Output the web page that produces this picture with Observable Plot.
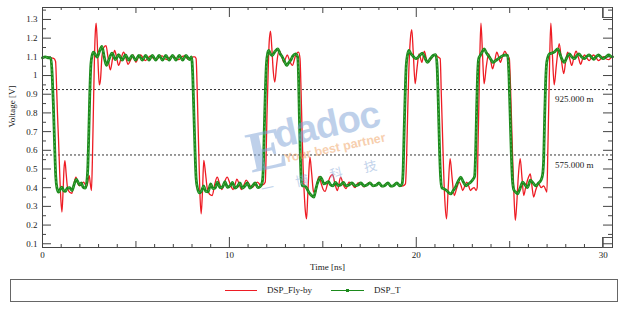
<!DOCTYPE html>
<html>
<head>
<meta charset="utf-8">
<script src="https://cdn.jsdelivr.net/npm/d3@7"></script>
<script src="https://cdn.jsdelivr.net/npm/@observablehq/plot@0.6"></script>
<style>
  html, body { margin: 0; padding: 0; background: #fff; }
  #wrap { position: relative; width: 625px; height: 309px; overflow: hidden; font-family: "Liberation Serif", serif; }
  #chart { position: absolute; left: 0; top: 0; }
  #legend { position: absolute; left: 10px; top: 279px; width: 606px; height: 21px; border: 1px solid #666; box-sizing: content-box; }
  .sw { position: absolute; height: 0; }
  .lt { position: absolute; font-size: 9px; color: #222; line-height: 10px; white-space: nowrap; }
  .handle { position: absolute; width: 9px; height: 9px; border: 1px solid #555; border-right: none; }
  #wm { position: absolute; left: 0; top: 0; pointer-events: none; }
</style>
</head>
<body>
<div id="wrap">
  <div id="chart"></div>
  <svg id="wm" width="625" height="277">
    <g transform="rotate(-12, 310, 140)" opacity="0.5">
      <text x="246" y="160" font-family="Liberation Serif" font-weight="bold" font-size="58" fill="#7fa3d6">E</text>
      <text x="276" y="141" font-family="Liberation Sans" font-weight="bold" font-size="38" fill="#7fa3d6" letter-spacing="-1">dadoc</text>
      <text x="281" y="157" font-family="Liberation Sans" font-weight="bold" font-size="12.5" fill="#f0a060">Your best partner</text>
      <text x="252" y="183" font-family="Noto Sans CJK SC" font-size="13" fill="#86a8d8" letter-spacing="22">一博科技</text>
    </g>
  </svg>
  <div class="handle" style="left:602px; top:7px;"></div>
  <div class="handle" style="left:602px; top:237px;"></div>
  <div id="legend"></div>
</div>
<script>
// ---------------- data ----------------
const seriesNames = ["DSP_Fly-by", "DSP_T"];
const seriesColors = ["#ee1c24", "#1c8a1c"];

// DSP_T (green) : time [ns] and voltage [V]
const greenT = [
  0.00,0.15,0.30,0.45,0.52,0.58,0.65,0.71,0.77,
  0.86,0.95,1.04,1.13,1.22,1.33,1.45,1.58,1.70,1.81,1.90,1.98,2.08,2.17,2.29,2.37,
  2.43,2.48,2.53,2.59,2.66,
  2.73,2.84,2.92,3.05,3.18,3.30,3.42,3.57,3.72,3.90,4.08,4.26,4.44,4.62,4.80,4.98,5.16,5.34,5.52,5.70,5.88,6.06,6.24,6.42,6.60,6.78,6.96,7.14,7.32,7.50,7.68,7.86,7.97,
  8.04,8.10,8.16,8.22,8.30,
  8.40,8.52,8.62,8.74,8.86,9.00,9.12,9.24,9.36,9.50,9.64,9.76,9.90,10.04,10.16,10.30,10.44,10.56,10.70,10.84,10.96,11.10,11.24,11.38,11.52,11.64,11.76,
  11.82,11.87,11.92,11.98,12.05,
  12.11,12.20,12.29,12.45,12.59,12.72,12.83,12.95,13.06,13.17,13.27,13.40,13.54,13.65,
  13.70,13.74,13.79,13.84,13.90,
  14.02,14.12,14.25,14.38,14.52,14.62,14.70,14.80,14.88,14.97,15.06,15.18,15.30,15.42,15.55,15.68,15.82,15.96,16.10,16.24,16.40,16.56,16.72,16.88,17.04,17.20,17.36,17.52,17.68,17.84,18.00,18.16,18.32,18.48,18.64,18.80,18.96,19.12,19.24,
  19.30,19.35,19.40,19.46,19.53,
  19.61,19.70,19.80,19.90,20.00,20.16,20.33,20.46,20.60,20.75,20.90,21.05,
  21.12,21.18,21.24,21.30,21.37,
  21.48,21.62,21.75,21.85,21.98,22.10,22.24,22.38,22.52,22.65,22.78,22.92,23.04,23.12,
  23.18,23.23,23.28,23.34,
  23.42,23.52,23.63,23.76,23.90,24.00,24.10,24.25,24.40,24.52,24.65,24.78,24.89,
  24.96,25.02,25.08,25.14,25.20,
  25.24,25.33,25.42,25.55,25.69,25.82,25.95,26.03,26.10,26.25,26.40,26.54,26.67,26.76,
  26.82,26.87,26.92,26.97,
  27.03,27.12,27.25,27.38,27.57,27.66,27.74,27.83,27.92,28.05,28.19,28.32,28.45,28.58,28.70,28.84,28.98,29.12,29.25,29.38,29.50,29.62,29.75,29.88,30.00,30.15,30.30,30.42,30.50
];
const greenV = [
  1.095,1.100,1.095,1.092,1.000,0.850,0.620,0.460,0.400,
  0.376,0.392,0.403,0.385,0.380,0.398,0.400,0.385,0.420,0.444,0.430,0.415,0.425,0.403,0.398,0.430,
  0.520,0.700,0.900,1.060,1.110,
  1.125,1.110,1.098,1.130,1.156,1.100,1.055,1.090,1.120,1.085,1.112,1.082,1.110,1.082,1.108,1.082,1.108,1.082,1.108,1.082,1.108,1.082,1.108,1.082,1.108,1.082,1.108,1.082,1.108,1.082,1.108,1.085,1.100,
  1.000,0.800,0.600,0.450,0.395,
  0.372,0.385,0.410,0.380,0.378,0.420,0.395,0.398,0.430,0.400,0.405,0.432,0.402,0.410,0.428,0.398,0.408,0.425,0.398,0.410,0.425,0.398,0.410,0.425,0.400,0.405,0.430,
  0.520,0.720,0.900,1.060,1.120,
  1.134,1.115,1.107,1.130,1.143,1.115,1.100,1.075,1.054,1.068,1.080,1.105,1.116,1.100,
  1.000,0.800,0.600,0.450,0.410,
  0.410,0.400,0.376,0.360,0.350,0.390,0.420,0.445,0.456,0.440,0.420,0.425,0.432,0.415,0.410,0.428,0.412,0.415,0.428,0.410,0.415,0.426,0.410,0.414,0.425,0.410,0.414,0.426,0.410,0.413,0.425,0.408,0.412,0.425,0.408,0.412,0.425,0.410,0.420,
  0.500,0.700,0.880,1.050,1.110,
  1.134,1.118,1.107,1.095,1.090,1.105,1.120,1.095,1.070,1.090,1.107,1.112,
  1.040,0.850,0.620,0.460,0.400,
  0.394,0.385,0.372,0.367,0.385,0.403,0.435,0.456,0.430,0.410,0.420,0.430,0.445,0.460,
  0.600,0.820,1.000,1.090,
  1.107,1.125,1.143,1.120,1.100,1.085,1.070,1.080,1.090,1.100,1.107,1.110,1.107,
  1.000,0.800,0.600,0.450,0.395,
  0.385,0.375,0.367,0.395,0.430,0.415,0.400,0.420,0.440,0.425,0.410,0.425,0.440,0.470,
  0.560,0.780,0.960,1.060,
  1.095,1.116,1.120,1.125,1.143,1.125,1.100,1.080,1.070,1.095,1.116,1.100,1.090,1.105,1.116,1.100,1.090,1.102,1.110,1.098,1.087,1.100,1.110,1.098,1.090,1.100,1.110,1.102,1.100
];

// DSP_Fly-by (red) : time [ns] and voltage [V]
const redT = [
  0.00,0.20,0.40,0.60,0.70,
  0.75,0.80,0.86,0.92,0.98,1.04,1.10,1.15,1.20,1.27,1.34,1.45,1.57,1.68,1.79,1.90,2.00,2.10,2.20,2.30,2.38,2.44,2.50,2.56,2.62,
  2.67,2.72,2.77,2.82,2.87,2.92,2.98,3.04,3.10,3.18,3.28,3.40,3.50,3.63,3.75,3.86,3.96,4.07,4.20,4.34,4.46,4.58,4.72,4.85,4.92,5.00,5.12,5.25,5.38,5.50,5.65,5.80,5.95,6.10,6.25,6.40,6.55,6.70,6.85,7.00,7.15,7.30,7.45,7.60,7.75,7.90,8.05,8.15,8.22,
  8.27,8.32,8.37,8.42,8.49,8.56,8.63,8.72,8.81,8.94,9.08,9.22,9.35,9.48,9.60,9.74,9.88,10.04,10.20,10.30,10.40,10.52,10.65,10.78,10.90,11.05,11.20,11.35,11.50,11.60,11.67,11.76,11.85,11.92,
  11.96,12.01,12.07,12.13,12.20,12.27,12.35,12.43,12.53,12.65,12.78,12.92,13.00,13.10,13.22,13.37,13.52,13.62,13.70,13.78,
  13.84,13.89,13.94,14.00,14.06,14.13,14.19,14.25,14.31,14.40,14.50,14.60,14.70,14.80,14.92,15.02,15.12,15.25,15.40,15.52,15.65,15.78,15.95,16.10,16.24,16.40,16.56,16.72,16.88,17.04,17.20,17.36,17.52,17.68,17.84,18.00,18.16,18.32,18.48,18.64,18.80,18.96,19.12,19.30,19.42,
  19.48,19.54,19.60,19.68,19.76,19.84,19.94,20.04,20.15,20.30,20.43,20.60,20.80,20.95,21.05,21.15,21.28,
  21.34,21.40,21.46,21.53,21.62,21.71,21.81,21.92,22.03,22.17,22.30,22.40,22.48,22.60,22.70,22.80,22.90,23.00,23.10,23.20,23.26,
  23.30,23.35,23.40,23.46,23.55,23.63,23.75,23.87,23.98,24.08,24.20,24.31,24.42,24.50,24.62,24.74,24.86,24.98,
  25.04,25.10,25.16,25.22,25.30,25.38,25.46,25.56,25.66,25.75,25.85,25.95,26.02,26.10,26.20,26.28,26.40,26.55,26.68,26.82,26.92,26.99,
  27.04,27.09,27.14,27.20,27.28,27.38,27.50,27.65,27.77,27.89,28.00,28.10,28.21,28.32,28.44,28.55,28.68,28.80,28.90,29.00,29.12,29.25,29.36,29.48,29.62,29.75,29.88,30.00,30.15,30.30,30.42,30.50
];
const redV = [
  1.095,1.098,1.095,1.092,1.075,
  0.950,0.800,0.650,0.480,0.340,0.270,0.380,0.500,0.545,0.470,0.400,0.375,0.370,0.420,0.456,0.420,0.410,0.420,0.430,0.415,0.410,0.440,0.465,0.420,0.385,
  0.550,0.800,1.050,1.220,1.280,1.200,1.050,0.950,0.975,1.100,1.150,1.160,1.100,1.030,1.090,1.134,1.100,1.054,1.090,1.125,1.095,1.060,1.085,1.110,1.090,1.070,1.095,1.110,1.095,1.080,1.095,1.105,1.090,1.085,1.100,1.105,1.090,1.085,1.100,1.105,1.090,1.085,1.100,1.105,1.090,1.085,1.100,1.100,1.090,
  0.950,0.750,0.560,0.380,0.260,0.380,0.546,0.480,0.400,0.365,0.358,0.420,0.456,0.420,0.390,0.430,0.456,0.420,0.390,0.415,0.446,0.420,0.390,0.415,0.440,0.420,0.400,0.415,0.430,0.420,0.410,0.415,0.420,0.430,
  0.550,0.780,1.000,1.180,1.237,1.150,1.020,0.965,1.060,1.134,1.110,1.070,1.090,1.110,1.080,1.054,1.100,1.120,1.125,1.090,
  0.900,0.700,0.520,0.380,0.280,0.233,0.350,0.480,0.563,0.480,0.380,0.370,0.430,0.460,0.420,0.390,0.380,0.420,0.460,0.470,0.420,0.385,0.456,0.415,0.395,0.430,0.420,0.400,0.425,0.422,0.404,0.418,0.428,0.408,0.415,0.425,0.406,0.414,0.426,0.406,0.414,0.426,0.408,0.410,0.420,
  0.550,0.800,1.020,1.190,1.245,1.120,0.956,1.040,1.116,1.070,1.130,1.070,1.090,1.107,1.110,1.100,1.090,
  0.900,0.700,0.500,0.330,0.233,0.400,0.555,0.450,0.358,0.400,0.430,0.410,0.385,0.410,0.430,0.410,0.385,0.395,0.400,0.385,0.400,
  0.600,0.850,1.100,1.280,1.100,0.956,1.050,1.116,1.080,1.036,1.080,1.125,1.095,1.070,1.105,1.130,1.110,1.090,
  0.950,0.750,0.550,0.380,0.225,0.320,0.460,0.555,0.450,0.358,0.400,0.440,0.460,0.474,0.400,0.350,0.390,0.420,0.400,0.410,0.390,0.376,
  0.600,0.850,1.100,1.280,1.120,0.950,1.060,1.170,1.080,1.010,1.080,1.125,1.090,1.054,1.100,1.130,1.095,1.060,1.090,1.110,1.095,1.080,1.095,1.110,1.095,1.080,1.090,1.100,1.090,1.085,1.095,1.100
];

// axis ticks and reference levels
const xTickLabels = [0, 10, 20, 30];
const yTickLabels = [0.1, 0.2, 0.3, 0.4, 0.5, 0.6, 0.7, 0.8, 0.9, 1.0, 1.1, 1.2, 1.3];
const refLevels = [0.925, 0.575];
const refLabels = ["925.000 m", "575.000 m"];

// ---------------- chart ----------------
const W = 625, H = 277, ML = 42, MR = 13, MT = 7, MB = 30;
const innerW = W - ML - MR, innerH = H - MT - MB;

const red = redT.map((t, i) => ({t, v: redV[i]}));
const green = greenT.map((t, i) => ({t, v: greenV[i]}));
const refs = refLevels.map((v, i) => ({v, label: refLabels[i]}));

const xMid = [5, 15, 25];
const xMinor = d3.range(0, 31).filter(d => d % 5 !== 0);
const yMinor = d3.range(3, 28, 2).map(k => k * 0.05);

const tickStroke = "#444";
const chart = Plot.plot({
  width: W, height: H,
  marginLeft: ML, marginRight: MR, marginTop: MT, marginBottom: MB,
  x: {domain: [0, 30.5]},
  y: {domain: [0.08, 1.364]},
  style: {fontFamily: "Liberation Serif", fontSize: "9px", color: "#222", background: "white", overflow: "visible"},
  marks: [
    Plot.ruleY(refs, {y: "v", stroke: "#333", strokeWidth: 1, strokeDasharray: "2,2"}),
    Plot.text(refs, {x: 27.42, y: "v", text: "label", textAnchor: "start", dy: 10, fill: "#222"}),
    // bottom ticks (inward)
    Plot.tickX(xTickLabels, {x: d => d, insetTop: innerH - 10, stroke: tickStroke}),
    Plot.tickX(xMid, {x: d => d, insetTop: innerH - 6, stroke: tickStroke}),
    Plot.tickX(xMinor, {x: d => d, insetTop: innerH - 3, stroke: tickStroke}),
    // top ticks (inward)
    Plot.tickX(xTickLabels, {x: d => d, insetBottom: innerH - 10, stroke: tickStroke}),
    Plot.tickX(xMid, {x: d => d, insetBottom: innerH - 6, stroke: tickStroke}),
    Plot.tickX(xMinor, {x: d => d, insetBottom: innerH - 3, stroke: tickStroke}),
    // left / right ticks (inward)
    Plot.tickY(yTickLabels, {y: d => d, insetRight: innerW - 9, stroke: tickStroke}),
    Plot.tickY(yMinor, {y: d => d, insetRight: innerW - 4, stroke: tickStroke}),
    Plot.tickY(yTickLabels, {y: d => d, insetLeft: innerW - 9, stroke: tickStroke}),
    Plot.tickY(yMinor, {y: d => d, insetLeft: innerW - 4, stroke: tickStroke}),
    // series
    Plot.line(red, {x: "t", y: "v", stroke: seriesColors[0], strokeWidth: 1.3, curve: "monotone-x"}),
    Plot.line(green, {x: "t", y: "v", stroke: seriesColors[1], strokeWidth: 2.8, curve: "monotone-x"}),
    Plot.line(green, {x: "t", y: "v", stroke: "#5fc05f", strokeWidth: 0.8, strokeDasharray: "1,3", curve: "monotone-x"}),
    Plot.frame({stroke: "#444"}),
    // axes
    Plot.axisX(xTickLabels, {tickSize: 0, tickPadding: 4, label: null, fill: "#222"}),
    Plot.axisY(yTickLabels, {tickSize: 0, tickPadding: 5, label: null, fill: "#222",
      tickFormat: d => String(+d.toFixed(1))}),
    Plot.text(["Time [ns]"], {frameAnchor: "bottom", dy: 22, fill: "#222"}),
    Plot.text(["Voltage [V]"], {frameAnchor: "left", dx: -30, rotate: -90, fill: "#222"})
  ]
});
document.getElementById("chart").appendChild(chart);

// legend (below the chart)
const legend = document.getElementById("legend");
const legendItems = [
  {name: seriesNames[0], color: seriesColors[0], lineLeft: 214, lineW: 32, textLeft: 256, thick: 1.5, dot: false},
  {name: seriesNames[1], color: seriesColors[1], lineLeft: 320, lineW: 33, textLeft: 363, thick: 1.5, dot: true}
];
legendItems.forEach(it => {
  const sw = document.createElement("div");
  sw.className = "sw";
  sw.style.left = it.lineLeft + "px";
  sw.style.top = "10px";
  sw.style.width = it.lineW + "px";
  sw.style.borderTop = it.thick + "px solid " + it.color;
  legend.appendChild(sw);
  if (it.dot) {
    const d = document.createElement("div");
    d.style.cssText = "position:absolute;width:3px;height:3px;background:" + it.color + ";left:" + (it.lineLeft + it.lineW / 2 - 1.5) + "px;top:9px;";
    legend.appendChild(d);
  }
  const t = document.createElement("div");
  t.className = "lt";
  t.style.left = it.textLeft + "px";
  t.style.top = "5px";
  t.textContent = it.name;
  legend.appendChild(t);
});
</script>
</body>
</html>
